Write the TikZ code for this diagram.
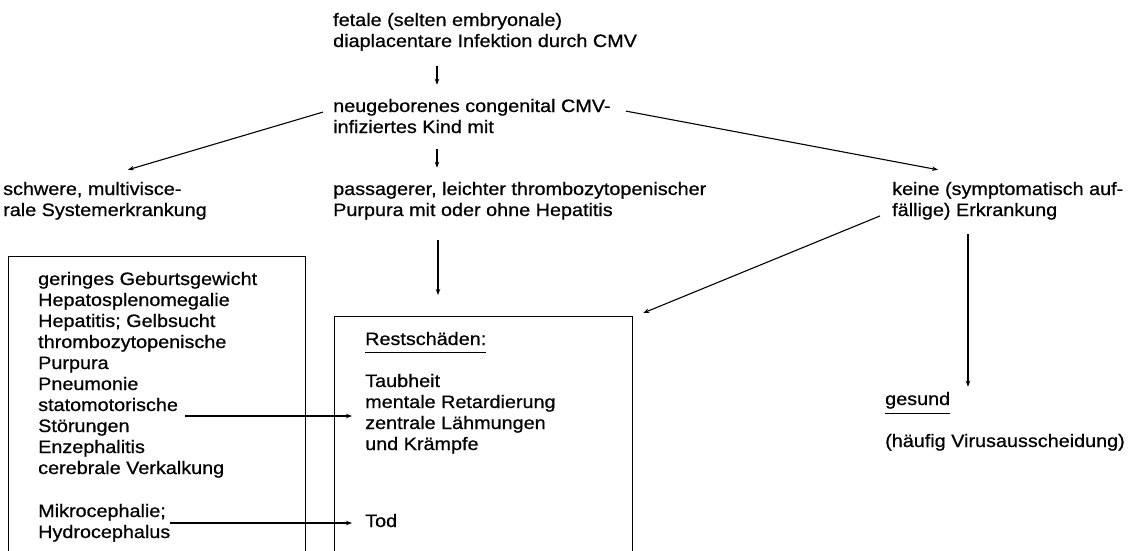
\documentclass[tikz,border=0pt]{standalone}
\usepackage{fontspec}
\setmainfont{Liberation Sans}[FakeStretch=1.1,FakeBold=0.7]
\usetikzlibrary{arrows.meta,calc}

\begin{document}
\begin{tikzpicture}[x=1pt,y=-1pt,
    txt/.style={anchor=base west,inner sep=0pt,align=left,font=\fontsize{18}{21}\selectfont},
    arr/.style={line width=1.1pt,-{Stealth[length=6pt,width=4.5pt]}},
    box/.style={draw,line width=1.2pt,anchor=north west,inner sep=0pt}]
  \useasboundingbox (0,0) rectangle (1137,550);
  % Stages (base = baseline of the last line)
  \node[txt] (fet) at (333,47) {fetale (selten embryonale)\\diaplacentare Infektion durch CMV};
  \node[txt] (neu) at (333,133) {neugeborenes congenital CMV-\\infiziertes Kind mit};
  \node[txt] (schw) at (3,216) {schwere, multivisce-\\rale Systemerkrankung};
  \node[txt] (pass) at (333,216) {passagerer, leichter thrombozytopenischer\\Purpura mit oder ohne Hepatitis};
  \node[txt] (keine) at (892,216) {keine (symptomatisch auf-\\fällige) Erkrankung};
  % Boxes, open at the bottom
  \node[box,minimum width=297pt,minimum height=310pt] (symbox) at (8,256) {};
  \node[box,minimum width=298pt,minimum height=250pt] (restbox) at (334,316) {};
  % Symptoms
  \foreach \t [count=\i] in {geringes Geburtsgewicht,Hepatosplenomegalie,
      Hepatitis; Gelbsucht,thrombozytopenische,Purpura,Pneumonie,
      statomotorische,Störungen,Enzephalitis,cerebrale Verkalkung}
    \node[txt] (l\i) at (38,264+21*\i) {\t};
  \node[txt] (m1) at (38,517) {Mikrocephalie;};
  \node[txt] (m2) at (38,538) {Hydrocephalus};
  % Residual damage
  \node[txt] (rest) at (365,345) {Restschäden:};
  \foreach \t [count=\i] in {Taubheit,mentale Retardierung,zentrale Lähmungen,und Krämpfe}
    \node[txt] (r\i) at (365,366+21*\i) {\t};
  \node[txt] (tod) at (365,527) {Tod};
  \node[txt] (ges) at (885,405) {gesund};
  \node[txt] (vir) at (885,447) {(häufig Virusausscheidung)};
  % Underlines
  \draw[line width=1pt] ([yshift=-7pt]rest.base west) -- ([yshift=-7pt]rest.base east);
  \draw[line width=1pt] ([yshift=-8pt]ges.base west) -- ([yshift=-8pt]ges.base east);
  % Arrows
  \draw[arr] ([xshift=104pt,yshift=-15pt]fet.south west) -- ([xshift=104pt,yshift=14pt]neu.north west);
  \draw[arr] ([xshift=104pt,yshift=-16pt]neu.south west) -- ([xshift=104pt,yshift=14pt]pass.north west);
  \draw[arr] ([xshift=-10pt,yshift=4pt]neu.west) -- ([xshift=125pt,yshift=12pt]schw.north west);
  \draw[arr] ([xshift=15pt,yshift=5pt]neu.east) -- ([xshift=46pt,yshift=12pt]keine.north west);
  \draw[arr] ([xshift=105pt,yshift=-20pt]pass.south west) -- ([xshift=104pt,yshift=21pt]restbox.north west);
  \draw[arr] ([xshift=-12pt,yshift=4pt]keine.south west) -- ([xshift=10pt,yshift=3pt]restbox.north east);
  \draw[arr] ([xshift=76pt,yshift=-14pt]keine.south west) -- ([xshift=83pt,yshift=5pt]ges.north west);
  \coordinate (sa) at ([xshift=7pt,yshift=-5pt]l7.base east);
  \coordinate (sb) at ([xshift=-13pt]r2.base west);
  \draw[arr] (sa) -- (sa -| sb);
  \coordinate (ma) at ([xshift=4pt,yshift=-6pt]m1.base east);
  \coordinate (mb) at ([xshift=-13pt]tod.base west);
  \draw[arr] (ma) -- (ma -| mb);
\end{tikzpicture}
\end{document}
